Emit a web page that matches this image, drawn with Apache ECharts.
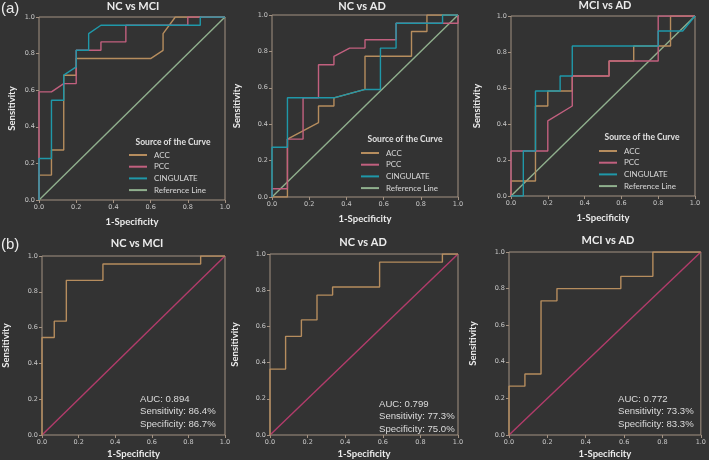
<!DOCTYPE html>
<html>
<head>
<meta charset="utf-8">
<script src="https://cdn.jsdelivr.net/npm/echarts@6/dist/echarts.min.js"></script>
<style>
html,body{margin:0;padding:0;background:#333333;}
#c{width:709px;height:460px;}
</style>
</head>
<body>
<div id="c"></div>
<script>
// ---------- data ----------
const panelTitles = ['NC vs MCI', 'NC vs AD', 'MCI vs AD', 'NC vs MCI', 'NC vs AD', 'MCI vs AD'];
const tickLabels = ['0.0', '0.2', '0.4', '0.6', '0.8', '1.0'];
const legendNames = ['ACC', 'PCC', 'CINGULATE', 'Reference Line'];
const referenceLine = [[0, 0], [1, 1]];

// (a) NC vs MCI
const a1Acc = [[0,0],[0,0.136],[0.067,0.136],[0.067,0.273],[0.133,0.273],[0.133,0.682],[0.2,0.682],[0.2,0.773],[0.6,0.773],[0.667,0.818],[0.667,0.909],[0.733,1],[1,1]];
const a1Pcc = [[0,0],[0,0.591],[0.067,0.591],[0.133,0.636],[0.2,0.636],[0.2,0.818],[0.333,0.818],[0.333,0.864],[0.467,0.864],[0.467,0.955],[0.8,0.955],[0.8,1],[1,1]];
const a1Cing = [[0,0],[0,0.227],[0.067,0.227],[0.067,0.545],[0.133,0.545],[0.133,0.682],[0.2,0.727],[0.2,0.818],[0.267,0.818],[0.267,0.909],[0.333,0.955],[0.867,0.955],[0.867,1],[1,1]];
// (a) NC vs AD
const a2Acc = [[0,0],[0.083,0],[0.083,0.318],[0.25,0.409],[0.25,0.5],[0.333,0.5],[0.333,0.545],[0.5,0.591],[0.5,0.773],[0.75,0.773],[0.75,0.909],[0.833,0.909],[0.833,1],[1,1]];
const a2Pcc = [[0,0],[0,0.045],[0.083,0.045],[0.083,0.318],[0.167,0.318],[0.167,0.545],[0.25,0.545],[0.25,0.727],[0.333,0.727],[0.333,0.773],[0.417,0.818],[0.5,0.818],[0.5,0.864],[0.667,0.864],[0.667,0.955],[1,0.955],[1,1]];
const a2Cing = [[0,0],[0,0.273],[0.083,0.273],[0.083,0.545],[0.333,0.545],[0.5,0.591],[0.583,0.591],[0.583,0.818],[0.667,0.818],[0.667,0.955],[0.917,0.955],[0.917,1],[1,1]];
// (a) MCI vs AD
const a3Acc = [[0,0],[0,0.083],[0.133,0.083],[0.133,0.5],[0.2,0.5],[0.2,0.583],[0.333,0.583],[0.333,0.667],[0.533,0.667],[0.533,0.75],[0.667,0.75],[0.667,0.833],[0.867,0.833],[0.867,1],[1,1]];
const a3Pcc = [[0,0],[0,0.25],[0.2,0.25],[0.2,0.417],[0.333,0.5],[0.333,0.667],[0.533,0.667],[0.533,0.75],[0.8,0.75],[0.8,1],[1,1]];
const a3Cing = [[0,0],[0.067,0],[0.067,0.25],[0.133,0.25],[0.133,0.583],[0.267,0.583],[0.267,0.667],[0.333,0.667],[0.333,0.833],[0.8,0.833],[0.8,0.917],[0.933,0.917],[1,1]];
// (b) combined models
const b1Roc = [[0,0],[0,0.545],[0.067,0.545],[0.067,0.636],[0.133,0.636],[0.133,0.864],[0.333,0.864],[0.333,0.955],[0.867,0.955],[0.867,1],[1,1]];
const b2Roc = [[0,0],[0,0.364],[0.083,0.364],[0.083,0.545],[0.167,0.545],[0.167,0.636],[0.25,0.636],[0.25,0.773],[0.333,0.773],[0.333,0.818],[0.583,0.818],[0.583,0.955],[0.917,0.955],[0.917,1],[1,1]];
const b3Roc = [[0,0],[0,0.267],[0.083,0.267],[0.083,0.333],[0.167,0.333],[0.167,0.733],[0.25,0.733],[0.25,0.8],[0.583,0.8],[0.583,0.867],[0.75,0.867],[0.75,1],[1,1]];
const b1Stats = ['AUC: 0.894', 'Sensitivity: 86.4%', 'Specificity: 86.7%'];
const b2Stats = ['AUC: 0.799', 'Sensitivity: 77.3%', 'Specificity: 75.0%'];
const b3Stats = ['AUC: 0.772', 'Sensitivity: 73.3%', 'Specificity: 83.3%'];

// ---------- style / layout ----------
const BG = '#333333';
const FRAME = '#a39282';
const TICKC = '#c9c9c9';
const TXT = '#ececec';
const C_ACC = '#b68d5e';
const C_PCC = '#c2607f';
const C_CING = '#1f98a9';
const C_REF_A = '#90b08e';
const C_REF_B = '#b23c6b';

const grids = [
  {left: 39, top: 17, width: 186, height: 183, yGap: 22, xGap: 17},
  {left: 272, top: 15, width: 186, height: 182, yGap: 30, xGap: 17},
  {left: 511, top: 16, width: 184, height: 180, yGap: 29, xGap: 17},
  {left: 38, top: 256, width: 187, height: 179, yGap: 31, xGap: 14},
  {left: 270, top: 254, width: 188, height: 181, yGap: 30, xGap: 14},
  {left: 509, top: 252, width: 193, height: 183, yGap: 31, xGap: 14}
];

const option = {
  backgroundColor: BG,
  animation: false,
  grid: grids.map(g => ({left: g.left, top: g.top, width: g.width, height: g.height,
    show: true, borderColor: FRAME, borderWidth: 1, backgroundColor: 'transparent'})),
  xAxis: grids.map((g, i) => ({
    type: 'value', gridIndex: i, min: 0, max: 1, interval: 0.2,
    name: '1-Specificity', nameLocation: 'middle', nameGap: g.xGap,
    nameTextStyle: {color: TXT, fontFamily: 'Lato', fontWeight: 'bold', fontSize: 9.5},
    axisLine: {show: false}, splitLine: {show: false},
    axisTick: {show: true, length: 3, lineStyle: {color: FRAME}},
    axisLabel: {color: TICKC, fontSize: 6.5, margin: 4, fontFamily: 'DejaVu Sans',
      formatter: v => tickLabels[Math.round(v * 5)]}
  })),
  yAxis: grids.map((g, i) => ({
    type: 'value', gridIndex: i, min: 0, max: 1, interval: 0.2,
    name: 'Sensitivity', nameLocation: 'middle', nameGap: g.yGap,
    nameTextStyle: {color: TXT, fontFamily: 'Lato', fontWeight: 'bold', fontSize: 9.5},
    axisLine: {show: false}, splitLine: {show: false},
    axisTick: {show: true, length: 3, lineStyle: {color: FRAME}},
    axisLabel: {color: TICKC, fontSize: 6.5, margin: 4, fontFamily: 'DejaVu Sans',
      formatter: v => tickLabels[Math.round(v * 5)]}
  })),
  legend: [
    {left: 129, top: 150}, {left: 361, top: 148}, {left: 599, top: 146}
  ].map(p => ({
    left: p.left, top: p.top, orient: 'vertical', data: legendNames, icon: 'rect',
    itemWidth: 18, itemHeight: 2, itemGap: 1.7, selectedMode: false, padding: 0,
    textStyle: {color: '#d8d8d8', fontSize: 8, fontFamily: 'Lato', lineHeight: 10, padding: [0, 0, 0, 2]}
  })),
  series: [],
  graphic: []
};

const line = (name, data, color, idx, z) => ({
  type: 'line', name: name, data: data, xAxisIndex: idx, yAxisIndex: idx,
  showSymbol: false, symbol: 'none', z: z || 2,
  lineStyle: {color: color, width: 1.4}, itemStyle: {color: color}
});

const aSets = [[a1Acc, a1Pcc, a1Cing], [a2Acc, a2Pcc, a2Cing], [a3Acc, a3Pcc, a3Cing]];
aSets.forEach((s, i) => {
  option.series.push(line('ACC', s[0], C_ACC, i, 2));
  option.series.push(line('PCC', s[1], C_PCC, i, 3));
  option.series.push(line('CINGULATE', s[2], C_CING, i, 4));
  option.series.push(line('Reference Line', referenceLine, C_REF_A, i, 1));
});
[b1Roc, b2Roc, b3Roc].forEach((d, k) => {
  option.series.push(line('Reference (b)', referenceLine, C_REF_B, 3 + k, 1));
  option.series.push(line('Combined ROC', d, C_ACC, 3 + k, 2));
});

// texts
const txt = (x, y, s, size, opts) => Object.assign({
  type: 'text', x: x, y: y, z: 10,
  style: Object.assign({text: s, fill: TXT, fontSize: size, fontFamily: 'Lato', fontWeight: 'bold',
    textAlign: 'center', textVerticalAlign: 'middle'}, opts || {})
});
const titlePos = [[133, 6], [362, 6], [605, 5], [137, 243], [363, 242], [608, 240]];
titlePos.forEach((p, i) => option.graphic.push(txt(p[0], p[1], panelTitles[i], 11)));
option.graphic.push(txt(1, 9, '(a)', 15, {fontFamily: 'Liberation Sans', fontWeight: 'normal', textAlign: 'left'}));
option.graphic.push(txt(1, 245, '(b)', 15, {fontFamily: 'Liberation Sans', fontWeight: 'normal', textAlign: 'left'}));
[[173, 142], [405, 139], [642, 137]].forEach(p =>
  option.graphic.push(txt(p[0], p[1], 'Source of the Curve', 8.5, {fill: '#e0e0e0'})));
[[140, 399, b1Stats], [379, 404, b2Stats], [618, 399, b3Stats]].forEach(p => {
  p[2].forEach((s, j) => option.graphic.push(txt(p[0], p[1] + j * 12.5, s, 9.6,
    {fontFamily: 'Liberation Sans', fontWeight: 'normal', textAlign: 'left', fill: '#dcdcdc'})));
});

const chart = echarts.init(document.getElementById('c'), null, {renderer: 'canvas'});
chart.setOption(option);
</script>
</body>
</html>
